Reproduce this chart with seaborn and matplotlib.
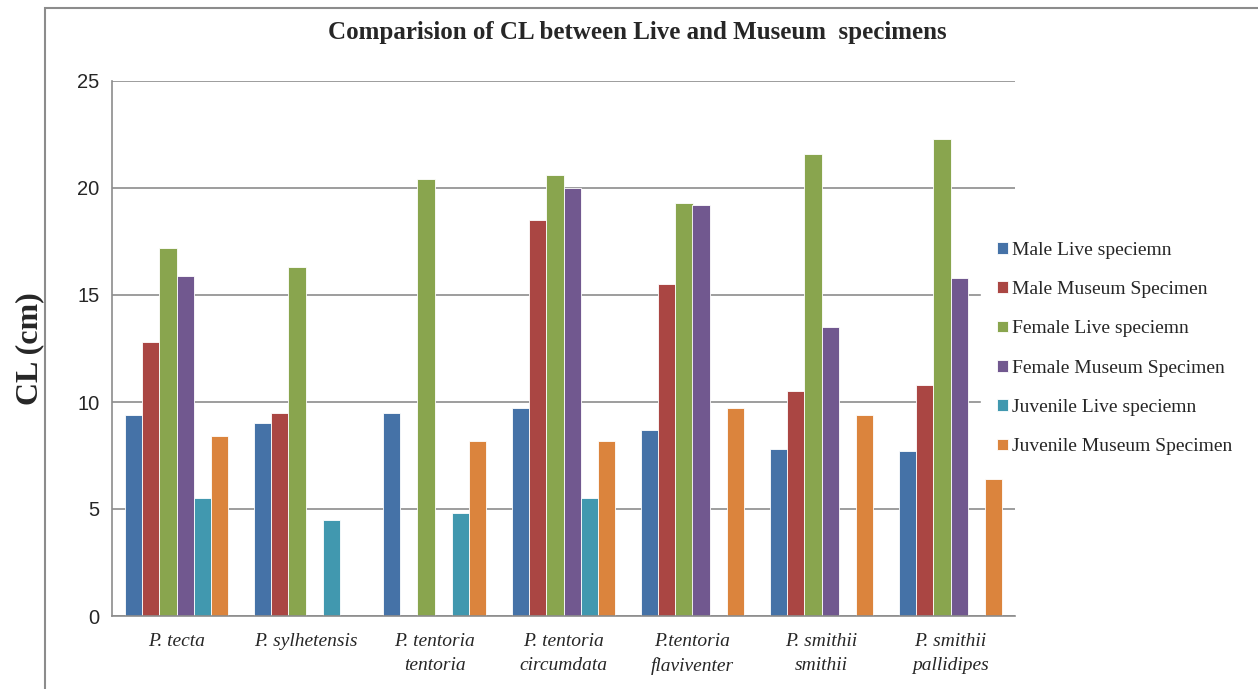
import pandas as pd
import numpy as np
import matplotlib
matplotlib.use("Agg")
import matplotlib.pyplot as plt
import seaborn as sns


species = ['P. tecta', 'P. sylhetensis', 'P. tentoria\ntentoria', 'P. tentoria\ncircumdata',
           'P.tentoria\nflaviventer', 'P. smithii\nsmithii', 'P. smithii\npallidipes']

groups = ['Male Live speciemn', 'Male Museum Specimen', 'Female Live speciemn',
          'Female Museum Specimen', 'Juvenile Live speciemn', 'Juvenile Museum Specimen']

male_live = [9.4, 9.0, 9.5, 9.7, 8.7, 7.8, 7.7]
male_museum = [12.8, 9.5, np.nan, 18.5, 15.5, 10.5, 10.8]
female_live = [17.2, 16.3, 20.4, 20.6, 19.3, 21.6, 22.3]
female_museum = [15.9, np.nan, np.nan, 20.0, 19.2, 13.5, 15.8]
juvenile_live = [5.5, 4.5, 4.8, 5.5, np.nan, np.nan, np.nan]
juvenile_museum = [8.4, np.nan, 8.2, 8.2, 9.7, 9.4, 6.4]

colores = ['#4572A7', '#AA4643', '#89A54E', '#71588F', '#4198AF', '#DB843D']

series = [male_live, male_museum, female_live, female_museum, juvenile_live, juvenile_museum]
rows = []
for g, vals in zip(groups, series):
    for sp, v in zip(species, vals):
        rows.append({'Especie': sp, 'Grupo': g, 'CL': v})
df = pd.DataFrame(rows)

sns.set_style('white')
plt.rcParams['font.family'] = ['Liberation Serif', 'DejaVu Serif']

fig = plt.figure(figsize=(12.58, 6.89), dpi=100)
ax = fig.add_axes([112 / 1258, 73 / 689, 903 / 1258, 535 / 689])

sns.barplot(data=df, x='Especie', y='CL', hue='Grupo', order=species, hue_order=groups,
            palette=colores, errorbar=None, width=0.8, ax=ax, saturation=1,
            edgecolor='white', linewidth=0.6)

ax.set_ylim(0, 25)
ax.set_yticks([0, 5, 10, 15, 20, 25])
ax.yaxis.grid(True, color='#8c8c8c', linewidth=1.2)
ax.set_axisbelow(True)
for s in ['top', 'right']:
    ax.spines[s].set_visible(False)
for s in ['left', 'bottom']:
    ax.spines[s].set_color('#8c8c8c')
    ax.spines[s].set_linewidth(1.2)
ax.tick_params(axis='both', length=0)
ax.tick_params(axis='y', pad=9)
ax.tick_params(axis='x', pad=12)
for t in ax.get_yticklabels():
    t.set_fontfamily('Liberation Sans')
    t.set_fontsize(14.5)
for t in ax.get_xticklabels():
    t.set_fontstyle('italic')
    t.set_fontsize(14)
    t.set_linespacing(1.55)
ax.set_xlabel('')
ax.set_ylabel('CL (cm)', fontsize=23, fontweight='bold', labelpad=24)

leg = ax.legend(loc='center left', bbox_to_anchor=(0.952, 0.5), fontsize=14, frameon=True,
                facecolor='white', edgecolor='white', framealpha=1, labelspacing=1.15,
                handlelength=0.55, handleheight=0.55, handletextpad=0.25, borderpad=0.8)
leg.set_zorder(5)

fig.text(0.507, (689 - 32) / 689, 'Comparision of CL between Live and Museum  specimens',
         ha='center', va='center', fontsize=18, fontweight='bold')

fig.add_artist(plt.Rectangle((45 / 1258, -0.2), 1.2, (689 - 8) / 689 + 0.2,
                             transform=fig.transFigure, fill=False,
                             edgecolor='#8c8c8c', linewidth=1.5))

fig.savefig('out.png', dpi=100)
